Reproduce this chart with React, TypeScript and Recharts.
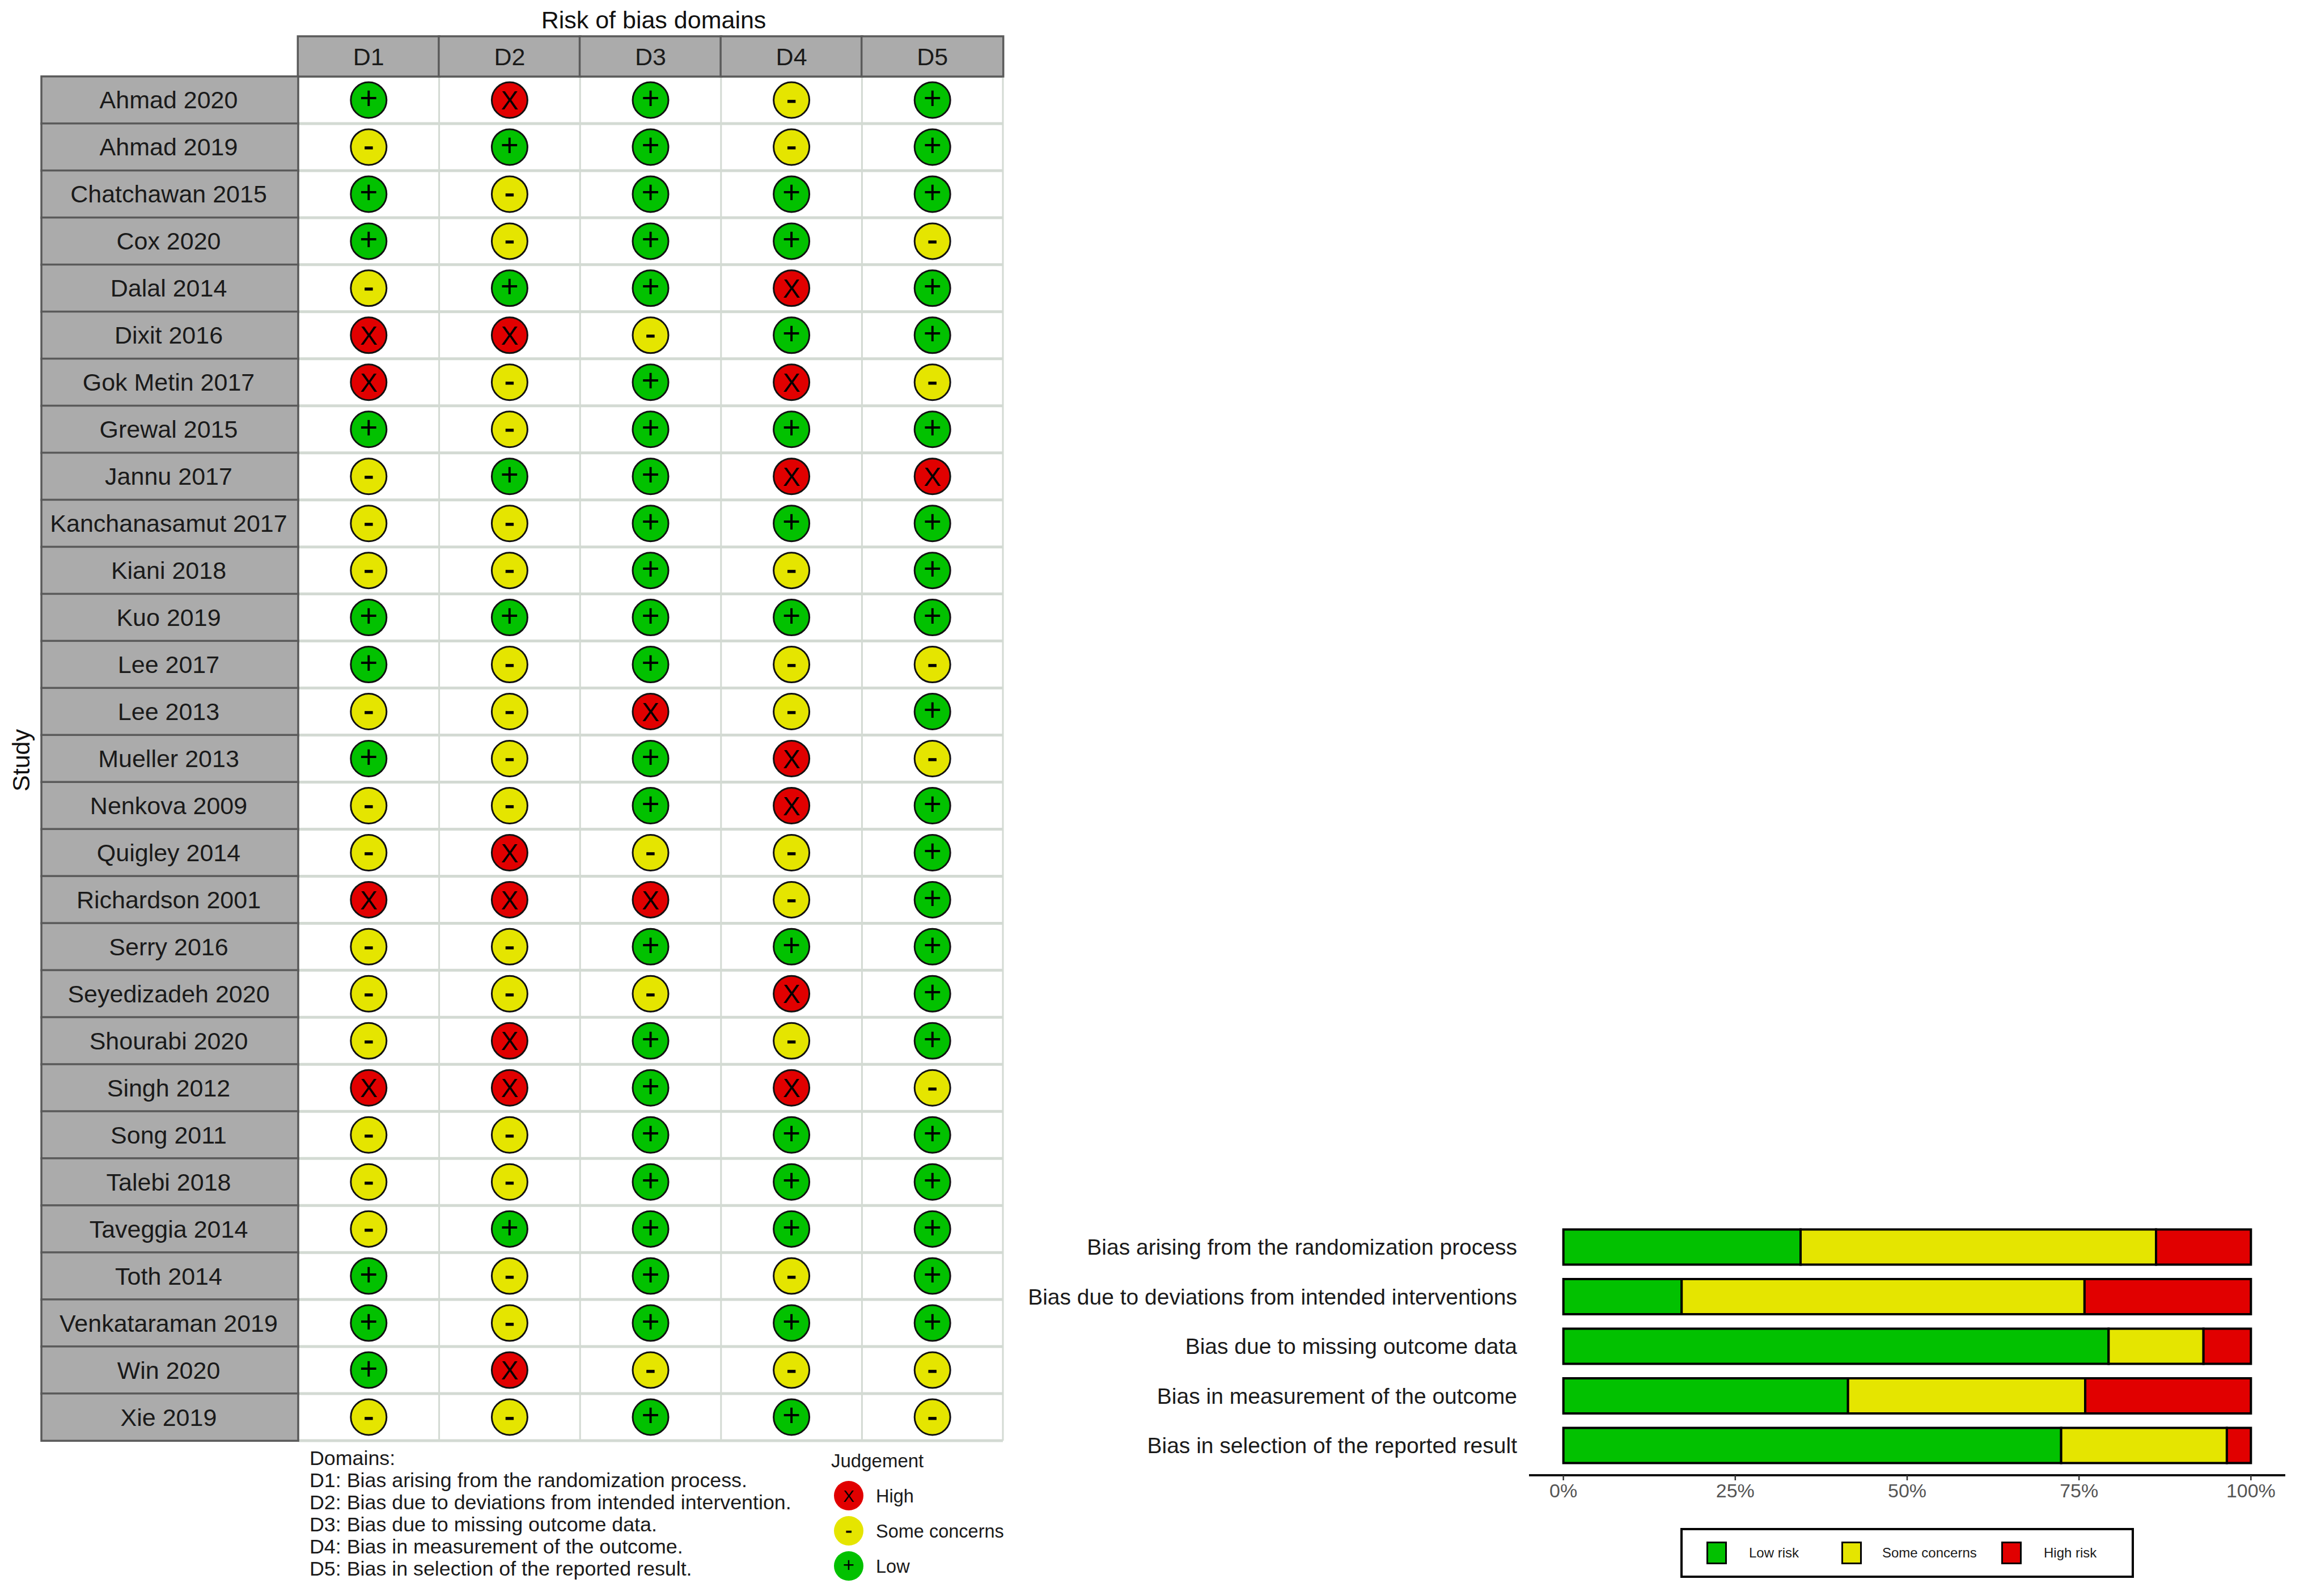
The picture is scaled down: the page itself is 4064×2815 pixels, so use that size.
import React from "react";
import { ScatterChart, Scatter, XAxis, YAxis, CartesianGrid, BarChart, Bar, Legend } from "recharts";

const studies = ["Ahmad 2020","Ahmad 2019","Chatchawan 2015","Cox 2020","Dalal 2014","Dixit 2016","Gok Metin 2017","Grewal 2015","Jannu 2017","Kanchanasamut 2017","Kiani 2018","Kuo 2019","Lee 2017","Lee 2013","Mueller 2013","Nenkova 2009","Quigley 2014","Richardson 2001","Serry 2016","Seyedizadeh 2020","Shourabi 2020","Singh 2012","Song 2011","Talebi 2018","Taveggia 2014","Toth 2014","Venkataraman 2019","Win 2020","Xie 2019"];
const domains = ["D1","D2","D3","D4","D5"];
const D1 = ["+","-","+","+","-","X","X","+","-","-","-","+","+","-","+","-","-","X","-","-","-","X","-","-","-","+","+","+","-"];
const D2 = ["X","+","-","-","+","X","-","-","+","-","-","+","-","-","-","-","X","X","-","-","X","X","-","-","+","-","-","X","-"];
const D3 = ["+","+","+","+","+","-","+","+","+","+","+","+","+","X","+","+","-","X","+","-","+","+","+","+","+","+","+","-","+"];
const D4 = ["-","-","+","+","X","+","X","+","X","+","-","+","-","-","X","X","-","-","+","X","-","X","+","+","+","-","+","-","+"];
const D5 = ["+","+","+","-","+","+","-","+","X","+","+","+","-","+","-","+","+","+","+","+","+","-","+","+","+","+","+","-","-"];
const judgementColumns = [D1, D2, D3, D4, D5];

const barCategories = ["Bias arising from the randomization process","Bias due to deviations from intended interventions","Bias due to missing outcome data","Bias in measurement of the outcome","Bias in selection of the reported result"];
const lowRisk = [34.5, 17.2, 79.3, 41.4, 72.4];
const someConcerns = [51.7, 58.6, 13.8, 34.5, 24.1];
const highRisk = [13.8, 24.2, 6.9, 24.1, 3.5];
const percentTicks = [0, 25, 50, 75, 100];

const domainNotes = ["Domains:","D1: Bias arising from the randomization process.","D2: Bias due to deviations from intended intervention.","D3: Bias due to missing outcome data.","D4: Bias in measurement of the outcome.","D5: Bias in selection of the reported result."];
const judgementKeys = [
  { label: "High", sym: "X" },
  { label: "Some concerns", sym: "-" },
  { label: "Low", sym: "+" },
];

const GREEN = "#02C100";
const YELLOW = "#E5E500";
const RED = "#E10000";
const TILE = "#ABABAB";
const FONT = "'Liberation Sans', Arial, sans-serif";
const colorOf: Record<string, string> = { "+": GREEN, "-": YELLOW, X: RED };

const points = judgementColumns.flatMap((col, xi) =>
  col.map((j, yi) => ({ x: xi + 1, y: yi + 1, j }))
);
const byJudgement = (j: string) => points.filter((p) => p.j === j);
const barRows = barCategories.map((name, i) => ({ name, low: lowRisk[i], some: someConcerns[i], high: highRisk[i] }));

const yTickValues = studies.map((_, i) => i + 1);
const xTickValues = domains.map((_, i) => i + 1);
const hLines = [...yTickValues.map((v) => v - 0.5), studies.length + 0.5];
const vLines = [...xTickValues.map((v) => v - 0.5), domains.length + 0.5];

const TILE_W = 250;
const ROW_H = 83.45;

function Glyph({ cx, cy, sym, size }: { cx: number; cy: number; sym: string; size: number }) {
  const fs = sym === "X" ? size * 1.05 : size * 1.25;
  const dy = sym === "X" ? fs * 0.36 : sym === "+" ? fs * 0.29 : fs * 0.31;
  return (
    <text x={cx} y={cy + dy} textAnchor="middle" fontSize={fs} fontFamily={FONT} fill="#000" fontWeight={400} stroke={sym === "-" ? "#000" : "none"} strokeWidth={sym === "-" ? 1 : 0}>
      {sym}
    </text>
  );
}

function Marker(props: any) {
  const { cx, cy, payload } = props;
  return (
    <g>
      <circle cx={cx} cy={cy} r={31.5} fill={colorOf[payload.j]} stroke="#111" strokeWidth={3} />
      <Glyph cx={cx} cy={cy} sym={payload.j} size={44} />
    </g>
  );
}

function StudyTick(props: any) {
  const { x, y, payload } = props;
  return (
    <g>
      <rect x={x - 453} y={y - ROW_H / 2} width={453} height={ROW_H} fill={TILE} stroke="#5a5a5a" strokeWidth={3.5} />
      <text x={x - 228.5} y={y + 15} textAnchor="middle" fontSize={43} fontFamily={FONT} fill="#1a1a1a">
        {studies[payload.value - 1]}
      </text>
    </g>
  );
}

function DomainTick(props: any) {
  const { x, y, payload } = props;
  return (
    <g>
      <rect x={x - TILE_W / 2} y={y - 71} width={TILE_W} height={71} fill={TILE} stroke="#5a5a5a" strokeWidth={3.5} />
      <text x={x} y={y - 20} textAnchor="middle" fontSize={43} fontFamily={FONT} fill="#1a1a1a">
        {domains[payload.value - 1]}
      </text>
    </g>
  );
}

function BarLegend({ payload }: any) {
  const offsets = [46, 284, 566];
  const textOffsets = [121, 356, 641];
  return (
    <div style={{ position: "relative", width: 800, height: 88, border: "4px solid #000", boxSizing: "border-box", background: "#fff" }}>
      {(payload || []).map((entry: any, i: number) => (
        <React.Fragment key={entry.value}>
          <div style={{ position: "absolute", left: offsets[i] - 4, top: 20, width: 36, height: 40, background: entry.color, border: "3px solid #000", boxSizing: "border-box" }} />
          <span style={{ position: "absolute", left: textOffsets[i] - 4, top: 26, fontSize: 24, lineHeight: "28px", color: "#1a1a1a", fontFamily: FONT, whiteSpace: "nowrap" }}>
            {entry.value}
          </span>
        </React.Fragment>
      ))}
    </div>
  );
}

export default function App() {
  return (
    <div style={{ position: "absolute", left: 0, top: 0, width: 4064, height: 2815, background: "#fff", fontFamily: FONT, overflow: "hidden" }}>
      <div style={{ position: "absolute", left: 0, top: 0 }}>
        <ScatterChart width={1800} height={2580} margin={{ top: 64, right: 31, bottom: 39, left: 73 }}>
          <CartesianGrid horizontal={false} verticalValues={vLines} stroke="#D3DAD3" strokeWidth={3} />
          <CartesianGrid vertical={false} horizontalValues={hLines} stroke="#D3DAD3" strokeWidth={5} />
          <XAxis type="number" dataKey="x" orientation="top" domain={[0.5, 5.5]} ticks={xTickValues} interval={0} height={71} tickLine={false} axisLine={false} tickSize={0} tickMargin={0} tick={<DomainTick />} />
          <YAxis type="number" dataKey="y" reversed domain={[0.5, 29.5]} ticks={yTickValues} interval={0} width={453} tickLine={false} axisLine={false} tickSize={0} tickMargin={0} tick={<StudyTick />} />
          <Scatter name="Low" data={byJudgement("+")} shape={<Marker />} isAnimationActive={false} />
          <Scatter name="Some concerns" data={byJudgement("-")} shape={<Marker />} isAnimationActive={false} />
          <Scatter name="High" data={byJudgement("X")} shape={<Marker />} isAnimationActive={false} />
        </ScatterChart>
      </div>

      <div style={{ position: "absolute", left: 1790, top: 2100 }}>
        <BarChart width={2274} height={715} layout="vertical" data={barRows} margin={{ top: 46.5, right: 33, bottom: 153, left: 0 }} barSize={62}>
          <XAxis type="number" domain={[-5, 105]} ticks={percentTicks} tickFormatter={(v: number) => `${v}%`} height={60} tickSize={9} tickMargin={6} tickLine={{ stroke: "#333", strokeWidth: 2.5 }} axisLine={{ stroke: "#111", strokeWidth: 4 }} tick={{ fontSize: 34, fill: "#555", fontFamily: FONT }} />
          <YAxis type="category" dataKey="name" width={907} interval={0} padding={{ top: 9, bottom: 9 }} tickLine={false} axisLine={false} tickSize={0} tickMargin={21} tick={{ fontSize: 39, fill: "#1a1a1a", fontFamily: FONT }} />
          <Legend layout="horizontal" verticalAlign="middle" itemSorter={null} content={<BarLegend />} wrapperStyle={{ position: "absolute", left: 1174, top: 595, width: 800, height: 88, bottom: "auto", right: "auto", transform: "none" }} />
          <Bar dataKey="low" name="Low risk" stackId="r" fill={GREEN} stroke="#000" strokeWidth={4} isAnimationActive={false} />
          <Bar dataKey="some" name="Some concerns" stackId="r" fill={YELLOW} stroke="#000" strokeWidth={4} isAnimationActive={false} />
          <Bar dataKey="high" name="High risk" stackId="r" fill={RED} stroke="#000" strokeWidth={4} isAnimationActive={false} />
        </BarChart>
      </div>

      <svg width={4064} height={2815} style={{ position: "absolute", left: 0, top: 0, pointerEvents: "none" }}>
        <text x={1153} y={50} textAnchor="middle" fontSize={43} fontFamily={FONT} fill="#111">Risk of bias domains</text>
        <text transform="translate(52 1341) rotate(-90)" textAnchor="middle" fontSize={43} fontFamily={FONT} fill="#111">Study</text>
        {domainNotes.map((line, i) => (
          <text key={line} x={546} y={2584 + i * 39} fontSize={35.8} fontFamily={FONT} fill="#1a1a1a">{line}</text>
        ))}
        <text x={1466} y={2588} fontSize={33} fontFamily={FONT} fill="#1a1a1a">Judgement</text>
        {judgementKeys.map((k, i) => {
          const cy = 2638 + i * 62;
          return (
            <g key={k.label}>
              <circle cx={1497} cy={cy} r={26} fill={colorOf[k.sym]} />
              <Glyph cx={1497} cy={cy} sym={k.sym} size={28} />
              <text x={1545} y={cy + 12} fontSize={32.5} fontFamily={FONT} fill="#1a1a1a">{k.label}</text>
            </g>
          );
        })}
      </svg>
    </div>
  );
}
